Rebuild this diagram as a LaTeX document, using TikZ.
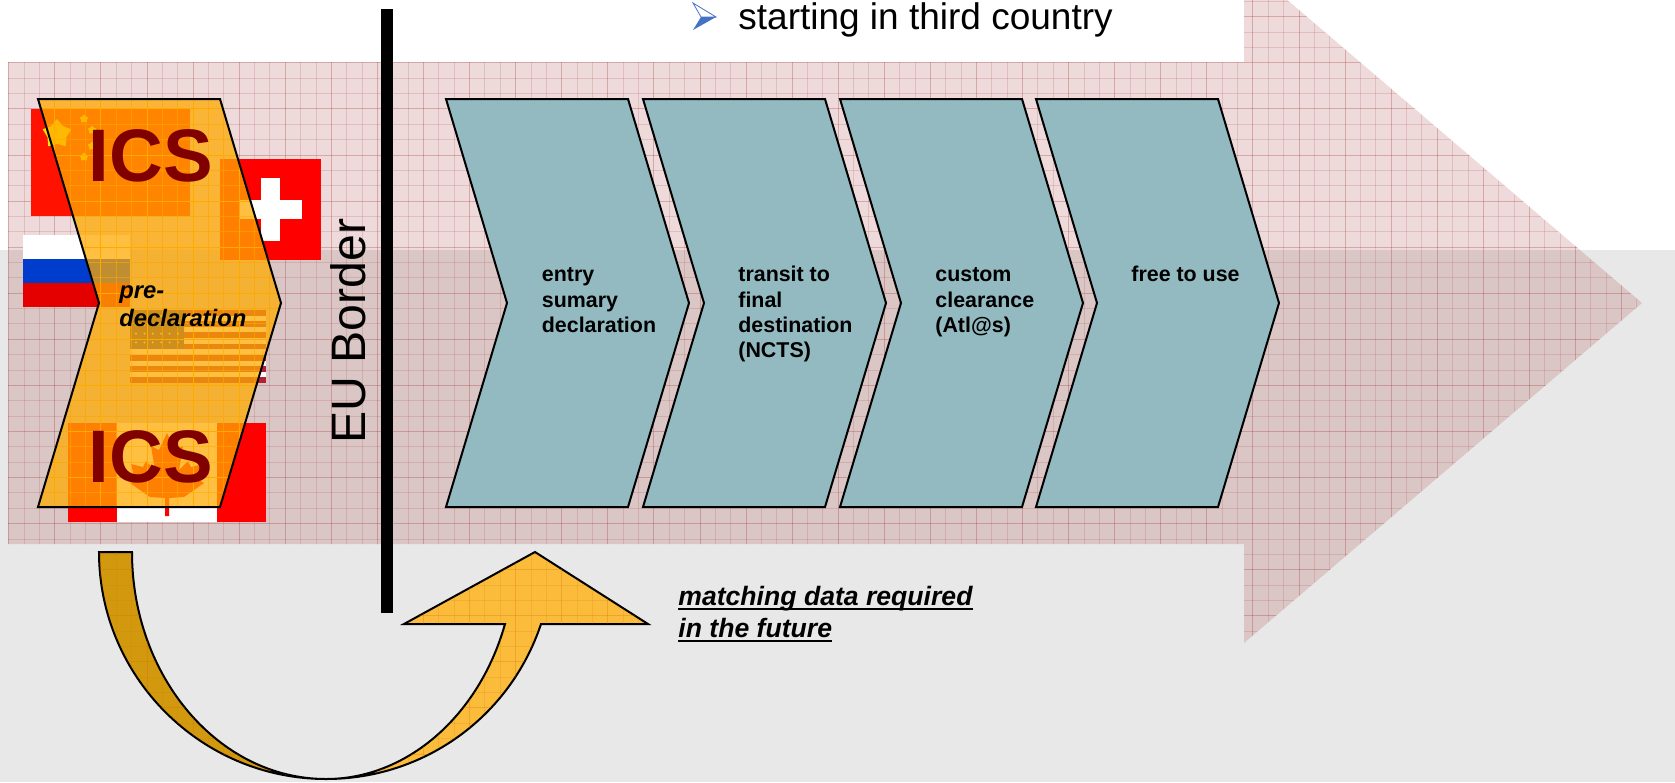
\documentclass[tikz,border=0pt]{standalone}
\usepackage{fontspec}
\setmainfont{Liberation Sans}
\usetikzlibrary{positioning,shapes.geometric}
\definecolor{bandred}{HTML}{A03030}
\definecolor{tealbox}{HTML}{93BAC1}
\definecolor{icsorange}{HTML}{FFAA00}
\definecolor{icsred}{HTML}{800000}
\definecolor{bowdark}{HTML}{D2990E}
\definecolor{bowlight}{HTML}{FBBB3B}
\definecolor{usared}{HTML}{B22234}
\definecolor{usablue}{HTML}{3C3B6E}
\definecolor{bulletblue}{HTML}{4472C4}
\tikzset{
    stage/.style = {draw, line width = 1pt, fill = tealbox},
    stagetext/.style = {anchor = north west, inner sep = 0pt, align = left,
        font = \fontsize{10.7}{12.7}\selectfont\bfseries},
    icstext/.style = {anchor = base, inner sep = 0pt, text = icsred,
        font = \fontsize{37.2}{40}\selectfont\bfseries},
    bowline/.style = {draw, line width = 1pt},
}
\newcommand{\thickul}[1]{\setbox0=\hbox{#1}\rlap{\vrule height -1.3pt depth 2.3pt width \wd0}\box0}
% grid of the textured shapes, drawn inside the current clip
\newcommand{\gridlines}[2]{
    \foreach \k in {0,...,110} {
        \pgfmathtruncatemacro{\major}{mod(\k,3)==0 ? 1 : 0}
        \ifnum\major=1
            \draw [#1, line width = .3pt, opacity = #2] (8.6+15.36*\k,-40) -- (8.6+15.36*\k,800);
            \draw [#1, line width = .3pt, opacity = #2] (0,8.5+15.36*\k-38) -- (1675,8.5+15.36*\k-38);
        \else
            \draw [#1, line width = .3pt, opacity = #2*.55] (8.6+15.36*\k,-40) -- (8.6+15.36*\k,800);
            \draw [#1, line width = .3pt, opacity = #2*.55] (0,8.5+15.36*\k-38) -- (1675,8.5+15.36*\k-38);
        \fi
    }
}
\begin{document}
\begin{tikzpicture}[x = .5pt, y = -.5pt]
    \useasboundingbox (0,0) rectangle (1675,782);
    \clip (0,0) rectangle (1675,782);

    \fill [black!9] (0,250) rectangle (1675,782);

    % big arrow
    \fill [bandred, opacity = .18] (8,62) -- (1244,62) -- (1244,-37) -- (1642,303)
        -- (1244,643) -- (1244,544) -- (8,544) -- cycle;
    \begin{scope}
        \clip (8,62) -- (1244,62) -- (1244,-37) -- (1642,303)
            -- (1244,643) -- (1244,544) -- (8,544) -- cycle;
        \gridlines{bandred}{.3}
    \end{scope}

    % flags
    \fill [red!85!orange] (31,109) rectangle (190,216);
    \foreach \i/\sx/\sy/\ssize in {1/57/134/30, 2/84/119/9, 3/92/130/9, 4/92/146/9, 5/84/157/9} {
        \node (star\i) [star, star points = 5, fill = yellow!90!orange, inner sep = 0pt,
            minimum size = \ssize*.5pt] at (\sx,\sy) {};
    }
    \fill [red] (220,159) rectangle (321,260);
    \fill [white] (261,178) rectangle (280,241);
    \fill [white] (239,200) rectangle (302,219);
    \fill [white] (23,235) rectangle (130,259);
    \fill [blue!70!cyan!80!black] (23,259) rectangle (130,283);
    \fill [red!90!black] (23,283) rectangle (130,307);
    \fill [white] (130,310) rectangle (266,383);
    \foreach \k in {0,2,...,12} {
        \fill [usared] (130,310+5.615*\k) rectangle (266,310+5.615*\k+5.615);
    }
    \fill [usablue] (130,310) rectangle (184,349);
    \foreach \a in {0,...,5} {
        \foreach \b in {0,...,3} {
            \fill [white] (136+8.4*\a,316+8.8*\b) circle (1);
        }
    }
    \fill [red] (68,423) rectangle (266,522);
    \fill [white] (117,423) rectangle (217,522);
    \fill [red] (167,433) -- (159,450) -- (151,446) -- (155,470) -- (146,461) -- (143,467)
        -- (131,464) -- (135,480) -- (130,483) -- (150,497) -- (165,498) -- (165,516)
        -- (169,516) -- (169,498) -- (184,497) -- (204,483) -- (199,480) -- (203,464)
        -- (191,467) -- (188,461) -- (179,470) -- (183,446) -- (175,450) -- cycle;

    % stages
    \foreach \x in {446,643,840,1036} {
        \draw [stage] (\x,99) -- (\x+182,99) -- (\x+243,303) -- (\x+182,507)
            -- (\x,507) -- (\x+61,303) -- cycle;
    }
    \node (entry) [stagetext] at (541.5,263.6) {\strut entry\\sumary\\declaration};
    \node (transit) [stagetext] at (738,263.6) {\strut transit to\\final\\destination\\(NCTS)};
    \node (custom) [stagetext] at (935,263.6) {\strut custom\\clearance\\(Atl@s)};
    \node (free) [stagetext] at (1131,263.6) {\strut free to use};

    % pre-declaration block
    \fill [icsorange, opacity = .75] (38,99) -- (220,99) -- (281,303) -- (220,507)
        -- (38,507) -- (99,303) -- cycle;
    \begin{scope}
        \clip (38,99) -- (220,99) -- (281,303) -- (220,507) -- (38,507) -- (99,303) -- cycle;
        \gridlines{icsorange}{1}
    \end{scope}
    \draw [line width = 1pt] (38,99) -- (220,99) -- (281,303) -- (220,507)
        -- (38,507) -- (99,303) -- cycle;
    \node (icstop) [icstext] at (151,181) {ICS};
    \node (icsbottom) [icstext] at (151,482) {ICS};
    \node (predecl) [anchor = north west, inner sep = 0pt, align = left,
        font = \fontsize{11.9}{14}\selectfont\bfseries\itshape] at (119,285) {pre-\\declaration};

    % border
    \fill (381,9) rectangle (393,613);
    \node (border) [anchor = base west, rotate = 90, inner sep = 0pt,
        font = \fontsize{24.1}{28}\selectfont] at (365.5,444) {EU Border};

    % bullet line
    \fill [white] (693,3) -- (716,17) -- (701,17) -- cycle;
    \draw [bulletblue, line width = .4pt] (693,3) -- (716,17) -- (701,17) -- cycle;
    \fill [bulletblue] (693,30) -- (716,17) -- (701,17) -- cycle;
    \node (third) [anchor = base west, inner sep = 0pt,
        font = \fontsize{18.5}{22}\selectfont] at (738,29) {starting in third country};

    % bow arrow
    \path [fill = bowdark, bowline] (99,552) -- (132,552)
        .. controls (132,677) and (219,779) .. (326,779)
        .. controls (201,779) and (99,677) .. (99,552) -- cycle;
    \path [fill = bowlight, bowline] (326,779)
        .. controls (407,779) and (479,716) .. (505,624) -- (404,624) -- (535,552)
        -- (648,624) -- (541,624)
        .. controls (510,717) and (424,779) .. (326,779) -- cycle;
    \begin{scope}
        \clip (99,552) -- (132,552) .. controls (132,677) and (219,779) .. (326,779)
            .. controls (201,779) and (99,677) .. (99,552) -- cycle
            (326,779) .. controls (407,779) and (479,716) .. (505,624) -- (404,624) -- (535,552)
            -- (648,624) -- (541,624) .. controls (510,717) and (424,779) .. (326,779) -- cycle;
        \gridlines{orange!80!black}{.25}
    \end{scope}
    \node (future) [anchor = north west, inner sep = 0pt, align = left,
        font = \fontsize{13.3}{16}\selectfont\bfseries\itshape] at (678,586)
        {\thickul{matching data required}\\\thickul{in the future}};
\end{tikzpicture}
\end{document}
